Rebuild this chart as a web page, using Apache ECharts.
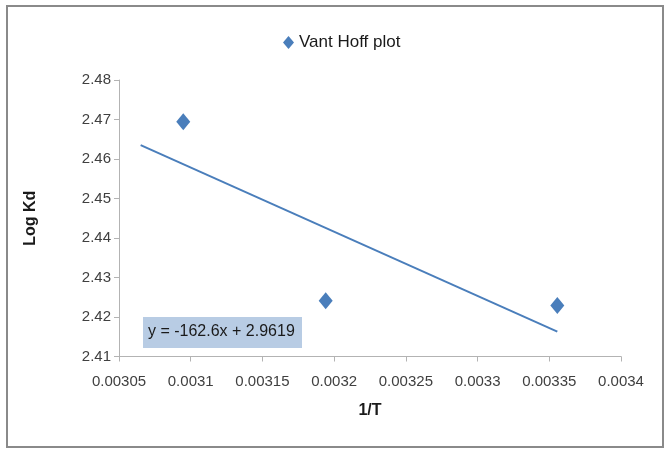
<!DOCTYPE html>
<html>
<head>
<meta charset="utf-8">
<script src="https://cdn.jsdelivr.net/npm/echarts@6/dist/echarts.min.js"></script>
<style>
  html, body { margin: 0; padding: 0; background: #fff; }
  #chart { width: 664px; height: 451px; }
</style>
</head>
<body>
<div id="chart"></div>
<script>
// Van 't Hoff plot: log Kd against reciprocal temperature
const seriesName = 'Vant Hoff plot';
const invT = [0.0030948, 0.0031941, 0.0033556];
const logKd = [2.4694, 2.4241, 2.4229];

// Fitted trendline y = slope * x + intercept, drawn over this x range
const slope = -162.6;
const intercept = 2.9619;
const fitRange = [0.0030651, 0.0033556];
const equationText = 'y = -162.6x + 2.9619';

const xTickLabels = ['0.00305', '0.0031', '0.00315', '0.0032', '0.00325', '0.0033', '0.00335', '0.0034'];
const yTickLabels = ['2.41', '2.42', '2.43', '2.44', '2.45', '2.46', '2.47', '2.48'];

const X_MIN = 0.00305, X_MAX = 0.0034, X_STEP = 0.00005;
const Y_MIN = 2.41, Y_MAX = 2.48, Y_STEP = 0.01;

const FONT = '"Liberation Sans", Arial, sans-serif';
const BLUE = '#4a7ebb';
const AXIS_GRAY = '#b3b3b3';
const TEXT = '#404040';

const points = invT.map((x, i) => [x, logKd[i]]);
const fitLine = fitRange.map(x => [x, slope * x + intercept]);

const chart = echarts.init(document.getElementById('chart'), null, { renderer: 'canvas' });
chart.setOption({
  animation: false,
  backgroundColor: '#fff',
  textStyle: { fontFamily: FONT },
  grid: { left: 119, right: 43, top: 80, bottom: 94.5, containLabel: false },
  legend: {
    data: [{ name: seriesName, icon: 'diamond' }],
    left: 278, top: 29,
    itemWidth: 11, itemHeight: 13, itemGap: 5,
    textStyle: { fontFamily: FONT, fontSize: 17, color: '#1a1a1a' }
  },
  xAxis: {
    type: 'value',
    min: X_MIN, max: X_MAX, interval: X_STEP,
    name: '1/T',
    nameLocation: 'middle',
    nameGap: 46,
    nameTextStyle: { fontFamily: FONT, fontSize: 16, fontWeight: 'bold', color: '#1a1a1a' },
    axisLine: { show: true, lineStyle: { color: AXIS_GRAY, width: 1 } },
    axisTick: { show: true, inside: false, length: 5, lineStyle: { color: AXIS_GRAY } },
    splitLine: { show: false },
    axisLabel: {
      margin: 18,
      fontFamily: FONT, fontSize: 15, color: TEXT,
      formatter: v => xTickLabels[Math.round((v - X_MIN) / X_STEP)]
    }
  },
  yAxis: {
    type: 'value',
    min: Y_MIN, max: Y_MAX, interval: Y_STEP,
    name: 'Log Kd',
    nameLocation: 'middle',
    nameRotate: 90,
    nameGap: 80,
    nameTextStyle: { fontFamily: FONT, fontSize: 16, fontWeight: 'bold', color: '#1a1a1a' },
    axisLine: { show: true, lineStyle: { color: AXIS_GRAY, width: 1 } },
    axisTick: { show: true, inside: false, length: 5, lineStyle: { color: AXIS_GRAY } },
    splitLine: { show: false },
    axisLabel: {
      margin: 8,
      fontFamily: FONT, fontSize: 15, color: TEXT,
      formatter: v => yTickLabels[Math.round((v - Y_MIN) / Y_STEP)]
    }
  },
  series: [
    {
      name: seriesName,
      type: 'scatter',
      data: points,
      symbol: 'diamond',
      symbolSize: [14, 17],
      itemStyle: { color: BLUE, opacity: 1 },
      z: 3
    },
    {
      name: 'Linear fit',
      type: 'line',
      data: fitLine,
      showSymbol: false,
      symbol: 'none',
      lineStyle: { color: BLUE, width: 2 },
      silent: true,
      z: 2
    }
  ],
  graphic: [
    {
      type: 'rect',
      shape: { x: 7, y: 6, width: 656, height: 441 },
      style: { fill: null, stroke: '#8a8a8a', lineWidth: 2 },
      silent: true,
      z: 0
    },
    {
      type: 'rect',
      shape: { x: 143, y: 317, width: 159, height: 31 },
      style: { fill: '#b8cce4' },
      z: 10
    },
    {
      type: 'text',
      left: 148, top: 324,
      style: { text: equationText, fontFamily: FONT, fontSize: 16, fill: '#1a1a1a' },
      z: 11
    }
  ]
});
</script>
</body>
</html>
